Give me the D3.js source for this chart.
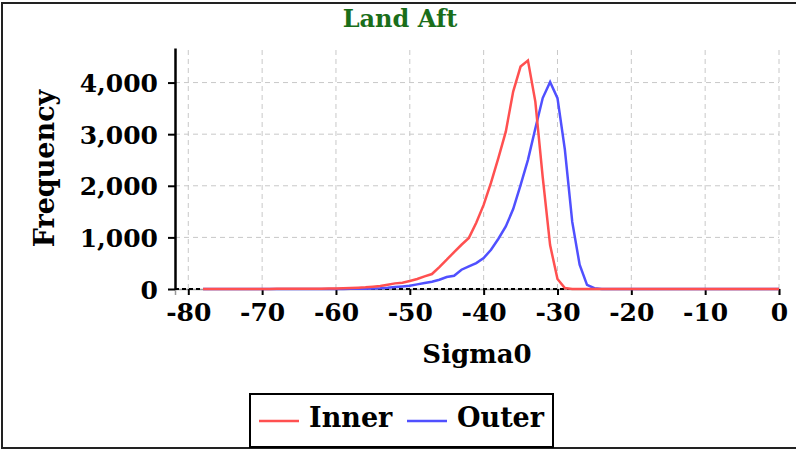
<!DOCTYPE html>
<html>
<head>
<meta charset="utf-8">
<script src="https://cdn.jsdelivr.net/npm/d3@7"></script>
<style>
  body { margin: 0; background: #fff; }
  svg { display: block; font-family: "DejaVu Serif", serif; font-weight: bold; }
</style>
</head>
<body>
<div id="container"></div>
<script>
// data
var sigma0 = d3.range(-78, 1); // -78 .. 0, step 1
var inner = [0, 0, 1, 1, 1, 1, 1, 2, 2, 2,
             3, 3, 4, 4, 5, 6, 7, 8, 10, 13,
             19, 25, 32, 45, 58, 83, 109, 122, 155, 194,
             245, 290, 425, 567, 716, 857, 990, 1283, 1630, 2060,
             2540, 3050, 3826, 4310, 4426, 3632, 2170, 850, 194, 20,
             2, 0, 0, 0, 0, 0, 0, 0, 0, 0,
             0, 0, 0, 0, 0, 0, 0, 0, 0, 0,
             0, 0, 0, 0, 0, 0, 0, 0, 0];
var outer = [0, 0, 0, 0, 0, 0, 1, 1, 1, 1,
             1, 1, 1, 1, 2, 2, 2, 2, 2, 2,
             3, 4, 6, 10, 15, 25, 39, 50, 64, 90,
             116, 141, 180, 232, 257, 374, 440, 503, 600, 761,
             974, 1212, 1548, 2015, 2503, 3110, 3700, 4010, 3698, 2700,
             1300, 470, 80, 15, 0, 0, 0, 0, 0, 0,
             0, 0, 0, 0, 0, 0, 0, 0, 0, 0,
             0, 0, 0, 0, 0, 0, 0, 0, 0];
var xTicks = [-80, -70, -60, -50, -40, -30, -20, -10, 0];
var yTicks = [0, 1000, 2000, 3000, 4000];
var seriesNames = ["Inner", "Outer"];
var seriesColors = ["#ff5050", "#5050ff"];

// width and height
var width = 796;
var height = 450;
var plot = {left: 175, right: 779, top: 48, bottom: 289};

var svg = d3.select("#container")
            .append("svg")
            .attr("width", width)
            .attr("height", height);

// outer frame
svg.append("rect")
   .attr("x", 2).attr("y", 3)
   .attr("width", 800).attr("height", 445)
   .attr("fill", "none")
   .attr("stroke", "#222")
   .attr("stroke-width", 2);

// scales
var x = d3.scaleLinear().domain([-81.8, 0]).range([plot.left, plot.right]);
var y = d3.scaleLinear().domain([0, 4670]).range([plot.bottom, plot.top]);

// grid
svg.append("g")
   .selectAll("line")
   .data(xTicks)
   .enter().append("line")
   .attr("x1", function(d) { return x(d); })
   .attr("x2", function(d) { return x(d); })
   .attr("y1", plot.top + 2)
   .attr("y2", plot.bottom)
   .attr("stroke", "#c8c8c8")
   .attr("stroke-dasharray", "5,4");

svg.append("g")
   .selectAll("line")
   .data(yTicks.slice(1))
   .enter().append("line")
   .attr("x1", plot.left)
   .attr("x2", plot.right)
   .attr("y1", function(d) { return y(d); })
   .attr("y2", function(d) { return y(d); })
   .attr("stroke", "#c8c8c8")
   .attr("stroke-dasharray", "5,4");

// x axis
var xAxis = svg.append("g")
   .attr("transform", "translate(0," + plot.bottom + ")")
   .call(d3.axisBottom(x).tickValues(xTicks).tickSize(6).tickPadding(8)
           .tickFormat(function(d) { return d; }));
xAxis.select(".domain").attr("stroke", "#999").attr("stroke-width", 1.5);
xAxis.append("line")
   .attr("x1", plot.left).attr("x2", plot.right)
   .attr("stroke", "#000").attr("stroke-width", 2)
   .attr("stroke-dasharray", "4,3");
xAxis.selectAll(".tick line").attr("stroke", "#000").attr("stroke-width", 2);
xAxis.selectAll("text")
   .attr("fill", "#000")
   .style("font-family", "DejaVu Serif")
   .style("font-weight", "bold")
   .style("font-size", "25px");

// y axis
var yAxis = svg.append("g")
   .attr("transform", "translate(" + plot.left + ",0)")
   .call(d3.axisLeft(y).tickValues(yTicks).tickSize(7).tickSizeOuter(0).tickPadding(10)
           .tickFormat(d3.format(",")));
yAxis.select(".domain").attr("stroke", "#000").attr("stroke-width", 2.5);
yAxis.selectAll(".tick line").attr("stroke", "#000").attr("stroke-width", 2);
yAxis.selectAll("text")
   .attr("fill", "#000")
   .attr("dy", "0.36em")
   .style("font-family", "DejaVu Serif")
   .style("font-weight", "bold")
   .style("font-size", "25px");

// lines
var line = d3.line()
   .x(function(d, i) { return x(sigma0[i]); })
   .y(function(d) { return y(d); });

svg.append("path")
   .datum(outer)
   .attr("d", line)
   .attr("fill", "none")
   .attr("stroke", seriesColors[1])
   .attr("stroke-width", 2.5);

svg.append("path")
   .datum(inner)
   .attr("d", line)
   .attr("fill", "none")
   .attr("stroke", seriesColors[0])
   .attr("stroke-width", 2.5);

// title
svg.append("text")
   .attr("x", 400)
   .attr("y", 27)
   .attr("text-anchor", "middle")
   .attr("fill", "#1a6e1a")
   .style("font-size", "24px")
   .text("Land Aft");

// axis labels
svg.append("text")
   .attr("x", (plot.left + plot.right) / 2)
   .attr("y", 363)
   .attr("text-anchor", "middle")
   .style("font-size", "26px")
   .text("Sigma0");

svg.append("text")
   .attr("transform", "rotate(-90)")
   .attr("x", -(plot.top + plot.bottom) / 2)
   .attr("y", 54)
   .attr("text-anchor", "middle")
   .style("font-size", "27px")
   .text("Frequency");

// legend
var legend = svg.append("g");
legend.append("rect")
   .attr("x", 250).attr("y", 394)
   .attr("width", 303).attr("height", 53)
   .attr("fill", "#fff")
   .attr("stroke", "#000")
   .attr("stroke-width", 2);

var lx = [259, 407];
seriesNames.forEach(function(name, i) {
  legend.append("line")
     .attr("x1", lx[i]).attr("x2", lx[i] + 40)
     .attr("y1", 421).attr("y2", 421)
     .attr("stroke", seriesColors[i])
     .attr("stroke-width", 2.5);
  legend.append("text")
     .attr("x", lx[i] + 50)
     .attr("y", 427)
     .style("font-size", "27px")
     .text(name);
});
</script>
</body>
</html>
